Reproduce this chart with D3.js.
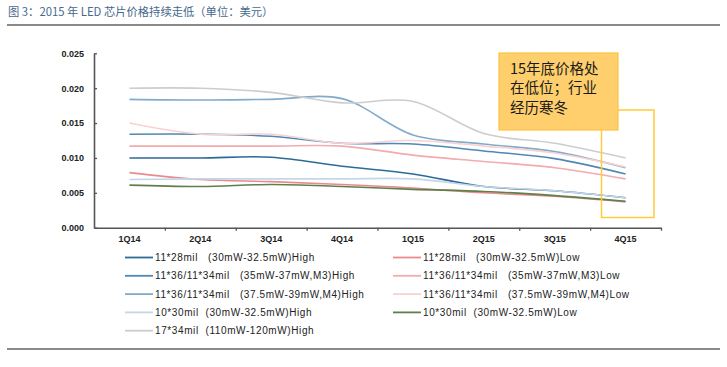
<!DOCTYPE html>
<html>
<head>
<meta charset="utf-8">
<script src="https://cdn.jsdelivr.net/npm/d3@7"></script>
<style>
  html, body { margin: 0; padding: 0; background: #fff; }
  svg { display: block; }
  text { white-space: pre; }
</style>
</head>
<body>
<svg id="chart" width="727" height="367"></svg>
<script>
// ---------- data ----------
const quarters = ["1Q14", "2Q14", "3Q14", "4Q14", "1Q15", "2Q15", "3Q15", "4Q15"];
const yTicks = [0, 0.005, 0.010, 0.015, 0.020, 0.025];

const chip1128High   = [0.0100, 0.0100, 0.0101, 0.0088, 0.0077, 0.0059, 0.0053, 0.0043];
const chip1128Low    = [0.0079, 0.0069, 0.0066, 0.0062, 0.0057, 0.0050, 0.0045, 0.0037];
const chipM3High     = [0.0134, 0.0134, 0.0131, 0.0121, 0.0120, 0.0110, 0.0099, 0.0077];
const chipM3Low      = [0.0117, 0.0117, 0.0117, 0.0117, 0.0104, 0.0095, 0.0086, 0.0070];
const chipM4High     = [0.0184, 0.0183, 0.0184, 0.0185, 0.0133, 0.0120, 0.0109, 0.0086];
const chipM4Low      = [0.0150, 0.0134, 0.0134, 0.0121, 0.0125, 0.0117, 0.0107, 0.0087];
const chip1030High   = [0.0069, 0.0070, 0.0070, 0.0070, 0.0070, 0.0059, 0.0053, 0.0043];
const chip1030Low    = [0.0061, 0.0059, 0.0062, 0.0059, 0.0055, 0.0052, 0.0046, 0.0038];
const chip1734High   = [0.0200, 0.0200, 0.0194, 0.0179, 0.0181, 0.0135, 0.0121, 0.0100];

const seriesNames = [
  "11*28mil   (30mW-32.5mW)High",
  "11*28mil   (30mW-32.5mW)Low",
  "11*36/11*34mil   (35mW-37mW,M3)High",
  "11*36/11*34mil   (35mW-37mW,M3)Low",
  "11*36/11*34mil   (37.5mW-39mW,M4)High",
  "11*36/11*34mil   (37.5mW-39mW,M4)Low",
  "10*30mil  (30mW-32.5mW)High",
  "10*30mil  (30mW-32.5mW)Low",
  "17*34mil  (110mW-120mW)High"
];
const seriesValues = [chip1128High, chip1128Low, chipM3High, chipM3Low, chipM4High, chipM4Low,
                      chip1030High, chip1030Low, chip1734High];
const seriesColors = ["#2C6B98", "#EA8A8E", "#4F88B5", "#F2ACAE", "#82ABCB", "#F8D2D2",
                      "#C4D7E7", "#5F7F4B", "#CDCDCD"];

const titleText = "图 3：2015 年 LED 芯片价格持续走低（单位：美元）";
const noteLines = ["15年底价格处", "在低位；行业", "经历寒冬"];

// ---------- drawing ----------
const svg = d3.select("#chart");

// title
svg.append("text")
  .attr("x", 8).attr("y", 16)
  .attr("font-family", "'Noto Sans CJK SC', sans-serif")
  .attr("font-size", 11.3)
  .attr("fill", "#46698C")
  .text(titleText);

svg.append("line").attr("x1", 7).attr("x2", 720).attr("y1", 25).attr("y2", 25)
  .attr("stroke", "#8a8a8a").attr("stroke-width", 2);
svg.append("line").attr("x1", 7).attr("x2", 720).attr("y1", 349).attr("y2", 349)
  .attr("stroke", "#8a8a8a").attr("stroke-width", 2);

const x = d3.scaleBand().domain(quarters).range([94, 661]);
const y = d3.scaleLinear().domain([0, 0.025]).range([227.7, 53.3]);
const xb = d3.scaleLinear().domain([0, quarters.length]).range(x.range());

// y axis
const yAxis = svg.append("g").attr("transform", "translate(94,0)")
  .call(d3.axisLeft(y).tickValues(yTicks).tickFormat(d3.format(".3f"))
        .tickSizeInner(-3).tickSizeOuter(0).tickPadding(10));
yAxis.selectAll("text").attr("font-family", "'Liberation Sans', Arial, sans-serif")
  .attr("font-size", 9).attr("font-weight", "bold").attr("fill", "#222");

// x axis (boundary ticks)
svg.append("g").attr("transform", "translate(0,227.7)")
  .call(d3.axisBottom(xb).tickValues(d3.range(1, quarters.length + 1)).tickFormat("")
        .tickSizeInner(3).tickSizeOuter(0));
// x labels
const xAxisLabels = svg.append("g").attr("transform", "translate(0,227.7)")
  .call(d3.axisBottom(x).tickSize(0).tickPadding(8));
xAxisLabels.select(".domain").remove();
xAxisLabels.selectAll("text").attr("font-family", "'Liberation Sans', Arial, sans-serif")
  .attr("font-size", 9).attr("font-weight", "bold").attr("fill", "#222");

svg.selectAll(".domain").attr("stroke", "#555").attr("stroke-width", 1.6);
svg.selectAll(".tick line").attr("stroke", "#555").attr("stroke-width", 1.3);

// lines
const line = d3.line()
  .x((d, i) => x(quarters[i]) + x.bandwidth() / 2)
  .y(d => y(d))
  .curve(d3.curveCatmullRom.alpha(0.5));

svg.append("g").selectAll("path")
  .data(seriesValues)
  .join("path")
  .attr("d", d => line(d))
  .attr("fill", "none")
  .attr("stroke", (d, i) => seriesColors[i])
  .attr("stroke-width", 1.6);

// annotation outline rectangle
svg.append("rect")
  .attr("x", 601.5).attr("y", 110).attr("width", 52.5).attr("height", 107.5)
  .attr("fill", "none").attr("stroke", "#FFCB3C").attr("stroke-width", 1.5);

// annotation filled box
svg.append("rect")
  .attr("x", 499).attr("y", 53).attr("width", 119).attr("height", 77)
  .attr("fill", "#FECF6C").attr("stroke", "#FBC43E").attr("stroke-width", 1.2);
svg.append("g").selectAll("text")
  .data(noteLines)
  .join("text")
  .attr("x", 510)
  .attr("y", (d, i) => 73.5 + i * 19.5)
  .attr("font-family", "'Noto Sans CJK SC', sans-serif")
  .attr("font-size", 14.5)
  .attr("fill", "#1a1a1a")
  .text(d => d);

// legend (two columns, row-wise order)
const legend = svg.append("g");
seriesNames.forEach((name, i) => {
  const col = i % 2, row = Math.floor(i / 2);
  const lx = col === 0 ? 125 : 393;
  const ly = 257.5 + row * 18.3;
  legend.append("line")
    .attr("x1", lx).attr("x2", lx + 28).attr("y1", ly).attr("y2", ly)
    .attr("stroke", seriesColors[i]).attr("stroke-width", 1.8);
  legend.append("text")
    .attr("x", lx + 30).attr("y", ly + 3.5)
    .attr("font-family", "'Liberation Sans', Arial, sans-serif")
    .attr("font-size", 10)
    .attr("letter-spacing", 0.6)
    .attr("fill", "#222")
    .text(name);
});
</script>
</body>
</html>
